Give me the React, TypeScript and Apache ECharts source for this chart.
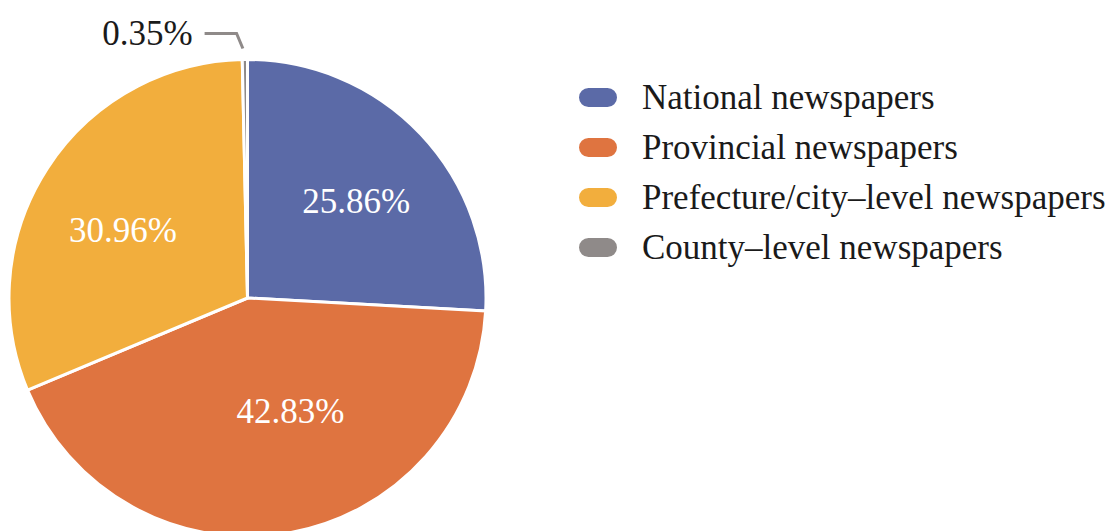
import React, { useEffect, useRef } from "react";
import * as echarts from "echarts";

const categories = [
  "National newspapers",
  "Provincial newspapers",
  "Prefecture/city\u2013level newspapers",
  "County\u2013level newspapers",
];
const shares = [25.86, 42.83, 30.96, 0.35];
const colors = ["#5B6AA7", "#DF7440", "#F2AE3D", "#8F8A89"];
const labelOffsets: [number, number][] = [
  [20, -12],
  [22, -7],
  [-22, -1],
  [0, 0],
];
const pillIcon =
  "path://M10.5,0 H29.5 A10.5,10.5 0 0 1 29.5,21 H10.5 A10.5,10.5 0 0 1 10.5,0 Z";

export default function App() {
  const ref = useRef<HTMLDivElement>(null);
  useEffect(() => {
    document.body.style.margin = "0";
    const chart = echarts.init(ref.current!, undefined, { renderer: "svg" });
    const font = "Liberation Serif";
    const data = categories.map((name, i) => {
      const outside = i === 3;
      return {
        name,
        value: shares[i],
        itemStyle: { color: colors[i] },
        label: outside
          ? {
              position: "outside" as const,
              color: "#1a1a1a",
              fontSize: 35,
              fontFamily: font,
              distanceToLabelLine: 12,
            }
          : {
              position: "inside" as const,
              color: "#ffffff",
              fontSize: 35,
              fontFamily: font,
              offset: labelOffsets[i],
            },
        labelLine: outside
          ? {
              show: true,
              length: 26,
              length2: 40,
              lineStyle: { color: "#8F8A89", width: 3 },
            }
          : { show: false },
      };
    });
    chart.setOption({
      animation: false,
      backgroundColor: "#ffffff",
      legend: {
        orient: "vertical",
        left: 572,
        top: 75,
        icon: pillIcon,
        itemWidth: 40,
        itemHeight: 21,
        itemGap: 15,
        data: categories,
        textStyle: {
          fontFamily: font,
          fontSize: 35,
          lineHeight: 35,
          color: "#1a1a1a",
          padding: [0, 0, 0, 19],
        },
      },
      series: [
        {
          type: "pie",
          center: [247.5, 298],
          radius: 238.5,
          startAngle: 90,
          clockwise: true,
          avoidLabelOverlap: false,
          itemStyle: { borderColor: "#ffffff", borderWidth: 3 },
          label: {
            show: true,
            formatter: (p: any) => p.value.toFixed(2) + "%",
          },
          labelLayout: (p: any) => {
            if (p.dataIndex !== 3 || !p.labelLinePoints) return {};
            const pts = p.labelLinePoints;
            return {
              labelLinePoints: [
                [pts[0][0] - 2, pts[0][1] - 11],
                [pts[1][0] - 8, pts[1][1]],
                [pts[2][0], pts[2][1]],
              ],
            };
          },
          emphasis: { disabled: true },
          data,
        },
      ],
    });
    return () => chart.dispose();
  }, []);
  return <div ref={ref} style={{ width: 1118, height: 531 }} />;
}
